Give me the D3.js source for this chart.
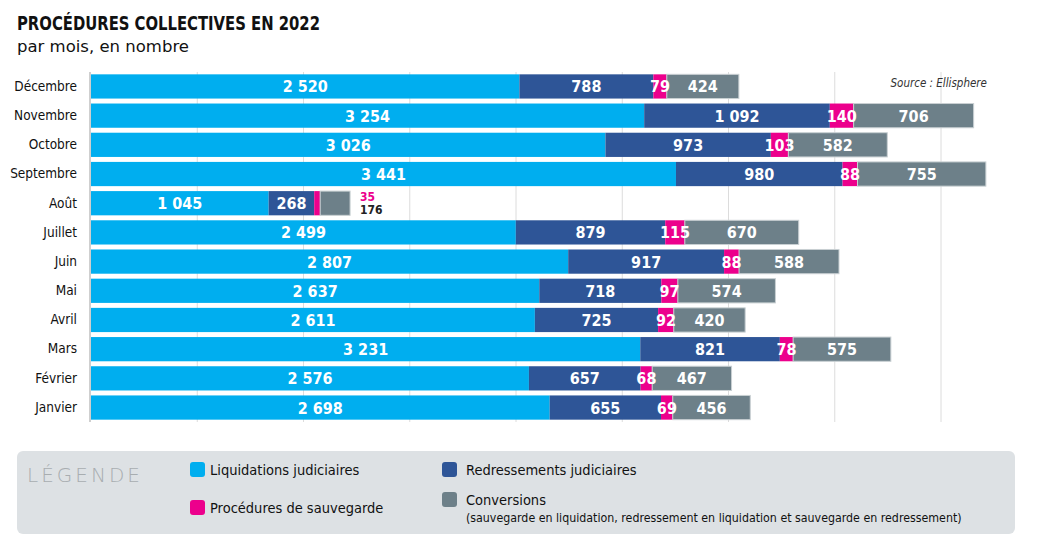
<!DOCTYPE html>
<html><head><meta charset="utf-8">
<script src="https://cdn.jsdelivr.net/npm/d3@7"></script>
<style>
body{margin:0;background:#fff;}
svg{display:block;}
.cond{font-family:'DejaVu Sans',sans-serif;font-stretch:condensed;}
</style></head>
<body>
<script>
const months = ["Décembre","Novembre","Octobre","Septembre","Août","Juillet","Juin","Mai","Avril","Mars","Février","Janvier"];
const liquidations = [2520,3254,3026,3441,1045,2499,2807,2637,2611,3231,2576,2698];
const redressements = [788,1092,973,980,268,879,917,718,725,821,657,655];
const sauvegardes = [79,140,103,88,35,115,88,97,92,78,68,69];
const conversions = [424,706,582,755,176,670,588,574,420,575,467,456];
const seriesKeys = ["liq","red","sau","con"];
const seriesNames = ["Liquidations judiciaires","Redressements judiciaires","Procédures de sauvegarde","Conversions"];
const colors = ["#00aeef","#2e5597","#ec008c","#6d8089"];
const gridTicks = [0,625,1250,1875,2500,3125,3750,4375,5000];

const W=1052,H=549;
const svg=d3.select("body").append("svg").attr("width",W).attr("height",H);

const rows = months.map((m,i)=>({month:m,liq:liquidations[i],red:redressements[i],sau:sauvegardes[i],con:conversions[i]}));
const stack = d3.stack().keys(seriesKeys)(rows);

const x = d3.scaleLinear().domain([0,5000]).range([91,941]);
const y = d3.scaleBand().domain(months).range([72,422]).paddingInner(0.17).paddingOuter(0.08);

// title
svg.append("text").attr("class","cond").attr("x",17).attr("y",30).attr("font-weight","bold")
  .attr("font-size",20).attr("fill","#111").attr("textLength",303).attr("lengthAdjust","spacingAndGlyphs")
  .text("PROCÉDURES COLLECTIVES EN 2022");
svg.append("text").attr("x",17).attr("y",52).attr("font-family","'DejaVu Sans',sans-serif")
  .attr("font-size",16.5).attr("fill","#111").text("par mois, en nombre");

// grid
svg.append("g").selectAll("line").data(gridTicks.slice(1)).join("line")
  .attr("x1",d=>x(d)).attr("x2",d=>x(d)).attr("y1",72).attr("y2",422)
  .attr("stroke","#dcdcdc").attr("stroke-width",1);
svg.append("line").attr("x1",x(0)-1).attr("x2",x(0)-1).attr("y1",72).attr("y2",422)
  .attr("stroke","#cfcfcf").attr("stroke-width",2);

// month labels
const yAxis = d3.axisLeft(y).tickSize(0).tickPadding(14);
const ya = svg.append("g").attr("transform",`translate(${x(0)},0)`).call(yAxis);
ya.select(".domain").remove();
ya.selectAll("text").attr("class","cond").attr("font-family",null).attr("font-size",13.5).attr("fill","#111");

// bars
const g = svg.append("g");
stack.forEach((s,si)=>{
  g.append("g").selectAll("rect").data(s).join("rect")
    .attr("x",d=>x(d[0])).attr("width",d=>x(d[1])-x(d[0]))
    .attr("y",d=>y(d.data.month)).attr("height",y.bandwidth())
    .attr("fill",colors[si]).attr("stroke", si===3?"#c9d0d3":"none").attr("stroke-width",si===3?1:0);
});

// labels
const fmt = v => d3.format(",")(v).replace(/,/g," ");
stack.forEach((s,si)=>{
  s.forEach(d=>{
    const m=d.data.month;
    const cy=y(m)+y.bandwidth()/2;
    const v=d.data[seriesKeys[si]];
    if(m==="Août" && si>=2){
      const endX = x(stack[3].find(e=>e.data.month===m)[1]);
      g.append("text").attr("class","cond").attr("x",endX+10).attr("y",si===2? cy-2 : cy+11)
        .attr("font-weight","bold").attr("font-size",12)
        .attr("fill",si===2?"#ec008c":"#222").text(fmt(v));
      return;
    }
    g.append("text").attr("class","cond").attr("x",(x(d[0])+x(d[1]))/2).attr("y",cy+6)
      .attr("text-anchor","middle").attr("font-weight","bold")
      .attr("font-size",16).attr("fill","#fff").text(fmt(v));
  });
});

// source
svg.append("text").attr("class","cond").attr("x",987).attr("y",87).attr("text-anchor","end")
  .attr("font-style","italic").attr("font-size",11.5).attr("fill","#333").text("Source : Ellisphere");

// legend
const lg = svg.append("g");
lg.append("rect").attr("x",17).attr("y",451).attr("width",998).attr("height",83).attr("rx",6).attr("fill","#dde1e4");
lg.append("text").attr("x",27).attr("y",482).attr("font-family","'DejaVu Sans',sans-serif").attr("font-weight",200)
  .attr("font-size",20).attr("letter-spacing",3).attr("fill","#a8adb0").text("LÉGENDE");
const legPos=[[190,462],[442,462],[190,500],[442,492]];
seriesNames.forEach((n,i)=>{
  const [lx,ly]=legPos[i];
  lg.append("rect").attr("x",lx).attr("y",ly).attr("width",15).attr("height",15).attr("rx",3).attr("fill",colors[i]);
  lg.append("text").attr("class","cond").attr("x",lx+20+(i%2?4:0)).attr("y",ly+13)
    .attr("font-size",14.5).attr("fill","#111").text(n);
});
lg.append("text").attr("class","cond").attr("x",466).attr("y",522)
  .attr("font-size",12.3).attr("fill","#111").text("(sauvegarde en liquidation, redressement en liquidation et sauvegarde en redressement)");
</script>
</body></html>
